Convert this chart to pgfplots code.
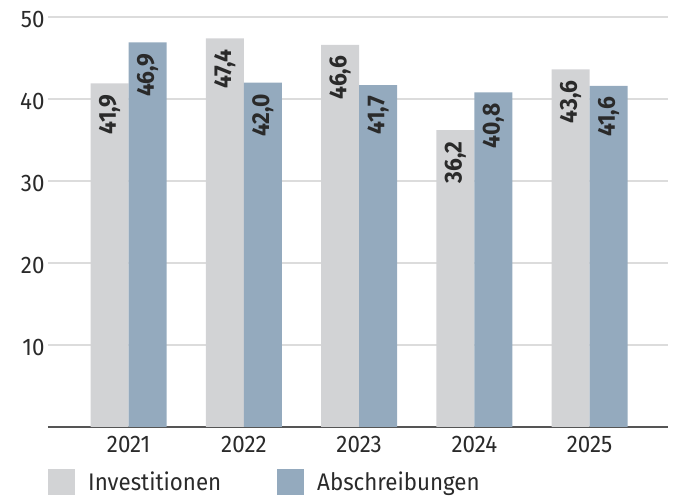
\documentclass[border=0pt]{standalone}
\usepackage{fontspec}
\setmainfont{Fira Sans}[FakeStretch=0.93]
\usepackage{pgfplots}
\pgfplotsset{compat=1.18}
\definecolor{invest}{HTML}{D2D3D5}
\definecolor{abschr}{HTML}{94AABE}
\definecolor{gridc}{HTML}{DCDCDC}
\definecolor{txt}{HTML}{2A2A2A}
\definecolor{axc}{HTML}{555555}
\begin{document}
\begin{tikzpicture}
\useasboundingbox (-48pt,-70pt) rectangle (625pt,427pt);
\begin{axis}[
  at={(0pt,0pt)}, anchor=south west,
  scale only axis, width=620pt, height=410pt,
  ymin=0, ymax=50, xmin=-0.70, xmax=4.68,
  ybar=0pt, bar width=38pt,
  axis x line*=bottom, axis y line*=left,
  y axis line style={draw=none},
  x axis line style={draw=axc, line width=1.5pt},
  major tick length=0pt,
  ytick={10,20,30,40,50},
  ymajorgrids, grid style={gridc, line width=1.3pt},
  xtick=data, xticklabels={2021,2022,2023,2024,2025},
  tick label style={font=\fontsize{24}{28}\selectfont, text=txt},
  xticklabel style={yshift=-6pt},
  yticklabel style={yshift=-2.5pt},
  /pgf/number format/assume math mode=true,
  nodes near coords={\pgfmathprintnumber[fixed, fixed zerofill, precision=1, use comma, assume math mode=true]{\pgfplotspointmeta}},
  nodes near coords align={anchor=east},
  nodes near coords style={yshift=-11pt, rotate=90, anchor=east, inner sep=0pt, font=\bfseries\fontsize{24.5}{28}\selectfont, text=txt},
  legend style={at={(0pt,-42pt)}, anchor=north west, draw=none, fill=none, inner sep=0pt, legend columns=2, font=\fontsize{24}{28}\selectfont, text=txt, nodes={inner ysep=0pt}, /tikz/every odd column/.append style={column sep=11pt}, /tikz/every even column/.append style={column sep=54pt}},
  legend image code/.code={\fill[#1] (0pt,-13pt) rectangle (27pt,13pt);},
]
\addplot[fill=invest, draw=none] coordinates {(0,41.9) (1,47.4) (2,46.6) (3,36.2) (4,43.6)};
\addplot[fill=abschr, draw=none] coordinates {(0,46.9) (1,42.0) (2,41.7) (3,40.8) (4,41.6)};
\legend{Investitionen, Abschreibungen}
\end{axis}
\end{tikzpicture}
\end{document}
